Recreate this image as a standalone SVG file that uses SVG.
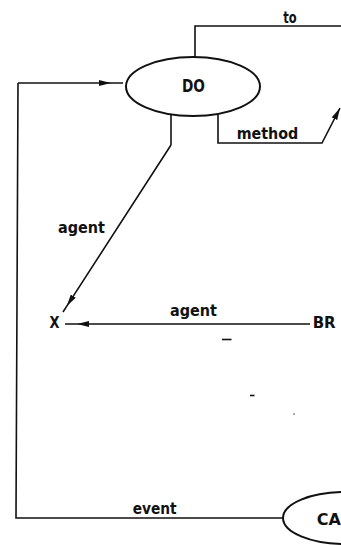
<svg xmlns="http://www.w3.org/2000/svg" width="341" height="545" viewBox="0 0 341 545">
<style>
.bg{fill:#fff}
.node{fill:#fff;stroke:#111;stroke-width:2}
.ln{fill:none;stroke:#111;stroke-width:1.6;stroke-linejoin:miter}
.am{marker-mid:url(#ah)}
.ae{marker-end:url(#ah)}
.lbl{font-family:"DejaVu Sans",sans-serif;font-weight:bold;font-size:15px;fill:#111}
.nm{font-family:"DejaVu Sans",sans-serif;font-weight:bold;fill:#111}
.mark{stroke:#111;stroke-width:1.6}
</style>
<defs>
<marker id="ah" markerUnits="userSpaceOnUse" markerWidth="13" markerHeight="7" refX="12" refY="3" orient="auto">
<path d="M0,0 L12,3 L0,6 z" fill="#111"/>
</marker>
</defs>
<rect class="bg" x="0" y="0" width="341" height="545"/>
<g id="connectors">
<path class="ln" d="M195,57 L195,26 L341,26"/>
<path class="ln" d="M283,518 L16,518 L18,83"/>
<path class="ln am" d="M18,83 L111,83 L123,83"/>
<path class="ln" d="M171,115 L171,145"/>
<path class="ln am" d="M171,145 L66.8,306.1 L63,312"/>
<path class="ln am" d="M310,324 L77,324 L65,324"/>
<path class="ln ae" d="M218,115 L218,143 L322,143 L340,108"/>
<text class="lbl" x="283.3" y="23" textLength="13.4" lengthAdjust="spacingAndGlyphs">to</text>
<text class="lbl" x="236.7" y="139" textLength="61.6" lengthAdjust="spacingAndGlyphs">method</text>
<text class="lbl" x="58" y="233" textLength="47" lengthAdjust="spacingAndGlyphs">agent</text>
<text class="lbl" x="170" y="316" textLength="47" lengthAdjust="spacingAndGlyphs">agent</text>
<text class="lbl" x="132.7" y="514" textLength="44" lengthAdjust="spacingAndGlyphs">event</text>
</g>
<g id="node-do">
<ellipse class="node" cx="193" cy="86.5" rx="67" ry="29.5"/>
<text class="nm" x="182" y="92" font-size="17" textLength="23" lengthAdjust="spacingAndGlyphs">DO</text>
</g>
<g id="node-x">
<text class="nm" x="49.5" y="328" font-size="15" textLength="10" lengthAdjust="spacingAndGlyphs">X</text>
</g>
<g id="node-br">
<text class="nm" x="312.7" y="328" font-size="15">BR</text>
</g>
<g id="node-ca">
<ellipse class="node" cx="345" cy="518" rx="62" ry="26"/>
<text class="nm" x="316.7" y="525" font-size="16">CA</text>
</g>
<g id="marks">
<line class="mark" x1="222" y1="339.5" x2="231.5" y2="339.5"/>
<line class="mark" x1="250" y1="395.5" x2="254.5" y2="395.5"/>
<circle cx="294" cy="414" r="0.7" fill="#111"/>
</g>
</svg>
